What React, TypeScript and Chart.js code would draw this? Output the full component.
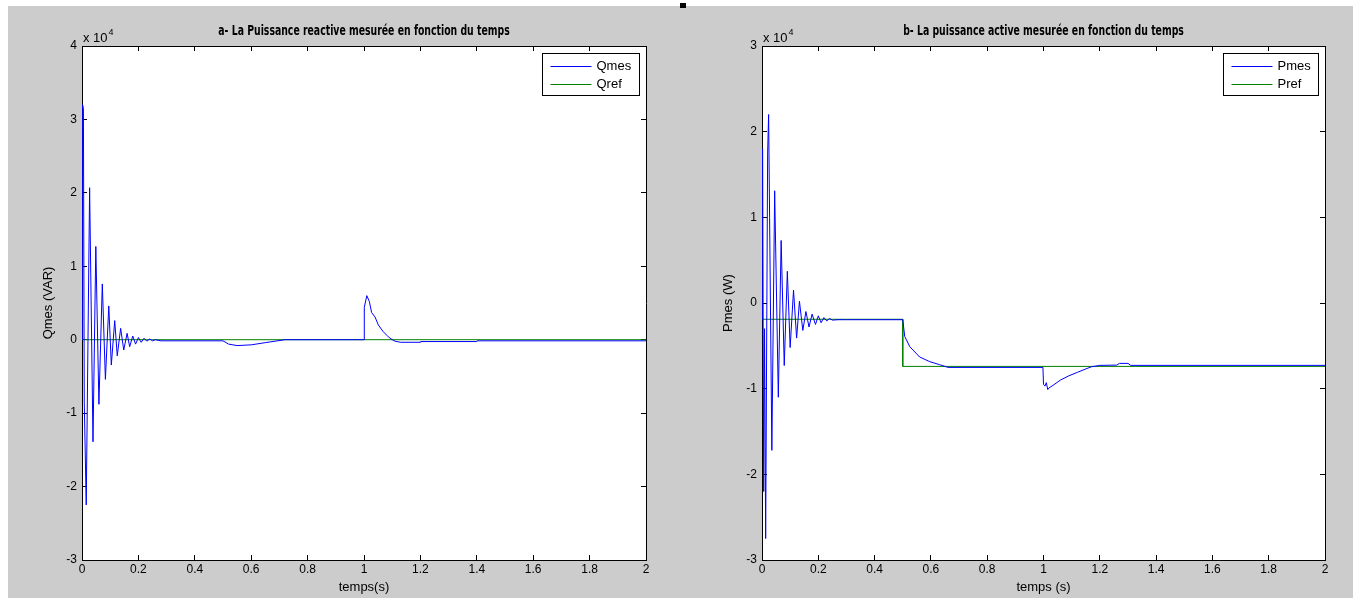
import React, { useEffect, useRef } from "react";
import { Chart, registerables } from "chart.js";

Chart.register(...registerables);

// ---------- DATA ----------
// Panel a: reactive power (VAR)
const qmesTime = [
  0, 0.001, 0.003, 0.005, 0.008, 0.015, 0.027, 0.039, 0.049, 0.06, 0.072, 0.083, 0.095, 0.104,
  0.116, 0.125, 0.137, 0.148, 0.16, 0.169, 0.18, 0.19, 0.2, 0.21, 0.22, 0.23, 0.24, 0.25, 0.26,
  0.28, 0.5, 0.52, 0.55, 0.6, 0.65, 0.72, 1.0, 1.001, 1.01, 1.019, 1.027, 1.039, 1.051, 1.068,
  1.086, 1.1, 1.11, 1.13, 1.2, 1.201, 1.4, 1.401, 2.0,
];
const qmesValues = [
  0, 17500, 32000, 31500, -8500, -22500, 20700, -13900, 12700, -8800, 7600, -5400, 4600, -3450,
  2600, -2200, 1550, -1400, 870, -950, 500, -600, 300, -350, 200, -200, 100, -150, 0,
  -150, -150, -600, -800, -700, -400, 0, 0, 4400, 6000, 5200, 3700, 3100, 2000, 1100,
  400, 0, -200, -350, -350, -250, -250, -150, -150,
];
const qrefTime = [0, 2];
const qrefValues = [0, 0];

// Panel b: active power (W)
const pmesTime = [
  0, 0.002, 0.006, 0.009, 0.013, 0.02, 0.0235, 0.027, 0.035, 0.045, 0.058, 0.068, 0.079, 0.09,
  0.1, 0.112, 0.123, 0.133, 0.145, 0.156, 0.167, 0.178, 0.19, 0.2, 0.21, 0.22, 0.23, 0.24, 0.25,
  0.27, 0.3, 0.5, 0.507, 0.525, 0.56, 0.596, 0.631, 0.661, 0.998, 1.0, 1.005, 1.01, 1.015, 1.02,
  1.03, 1.06, 1.09, 1.12, 1.15, 1.17, 1.2, 1.26, 1.27, 1.3, 1.31, 2.0,
];
const pmesValues = [
  -1900, 18000, -22000, -3000, -27500, 17500, 22000, 10000, -17200, 13100, -11000, 7300, -7300, 3700,
  -5200, 1500, -4100, 200, -3200, -1000, -2800, -1300, -2500, -1500, -2300, -1700, -2100, -1800, -2000,
  -1950, -1950, -1950, -3900, -5100, -6300, -6850, -7200, -7520, -7520, -9500, -9700, -9300, -10100, -9900,
  -9700, -9000, -8500, -8100, -7700, -7450, -7280, -7250, -7050, -7050, -7280, -7280,
];
const prefTime = [0, 0.5, 0.5, 2];
const prefValues = [-1900, -1900, -7400, -7400];

const xMin = 0;
const xMax = 2;
const xStep = 0.2;
const exponent = 4;

// ---------- STYLE ----------
const BLUE = "#0000ff";
const GREEN = "#008000";
const FONT = "'Liberation Sans', Arial, sans-serif";
const TITLE_FONT = "bold 14px 'DejaVu Sans Condensed', 'DejaVu Sans', sans-serif";
const W_LEFT = 680;
const W_RIGHT = 679;
const H = 605;

Chart.defaults.font.family = FONT;
Chart.defaults.color = "#000";

const toPoints = (t: number[], v: number[]) => t.map((x, i) => ({ x, y: v[i] }));

const whiteArea = {
  id: "whiteArea",
  beforeDraw(chart: any) {
    const { ctx, chartArea: a } = chart;
    ctx.save();
    ctx.fillStyle = "#fff";
    ctx.fillRect(a.left, a.top, a.right - a.left, a.bottom - a.top);
    ctx.restore();
  },
};

const condensedTitle = {
  id: "condensedTitle",
  afterDraw(chart: any, _args: any, opts: any) {
    const { ctx, chartArea: a } = chart;
    ctx.save();
    ctx.fillStyle = "#000";
    ctx.font = TITLE_FONT;
    ctx.textAlign = "center";
    ctx.textBaseline = "middle";
    ctx.translate((a.left + a.right) / 2, 31);
    ctx.scale(0.74, 1);
    ctx.fillText(opts.text, 0, 0);
    ctx.restore();
  },
};

const exponentLabel = {
  id: "exponentLabel",
  afterDraw(chart: any) {
    const { ctx, chartArea: a } = chart;
    ctx.save();
    ctx.fillStyle = "#000";
    ctx.textBaseline = "alphabetic";
    ctx.textAlign = "left";
    ctx.font = `13px ${FONT}`;
    const base = "x 10";
    ctx.fillText(base, a.left + 1, a.top - 4);
    const w = ctx.measureText(base).width;
    ctx.font = `9px ${FONT}`;
    ctx.fillText(String(exponent), a.left + 2 + w, a.top - 11);
    ctx.restore();
  },
};

const boxLegend = {
  id: "boxLegend",
  afterDraw(chart: any) {
    const { ctx, chartArea: a } = chart;
    const ds = chart.data.datasets;
    ctx.save();
    ctx.font = `13px ${FONT}`;
    const tw = Math.max(...ds.map((d: any) => ctx.measureText(d.label).width));
    const bw = Math.round(tw + 62);
    const bh = 42;
    const bx = Math.round(a.right - 7 - bw) + 0.5;
    const by = Math.round(a.top + 7) + 0.5;
    ctx.fillStyle = "#fff";
    ctx.fillRect(bx, by, bw, bh);
    ctx.strokeStyle = "#000";
    ctx.lineWidth = 1;
    ctx.strokeRect(bx, by, bw, bh);
    ds.forEach((d: any, i: number) => {
      const y = Math.round(by + 12 + i * 18) + 0.5;
      ctx.strokeStyle = d.borderColor;
      ctx.beginPath();
      ctx.moveTo(bx + 8, y);
      ctx.lineTo(bx + 49, y);
      ctx.stroke();
      ctx.fillStyle = "#000";
      ctx.textBaseline = "middle";
      ctx.textAlign = "left";
      ctx.fillText(d.label, bx + 54, y);
    });
    ctx.restore();
  },
};

type Spec = {
  title: string;
  yTitle: string;
  xTitle: string;
  yMin: number;
  yMax: number;
  series: { label: string; t: number[]; v: number[]; color: string }[];
};

function makeConfig(spec: Spec): any {
  const tickColor = "#000";
  const border = { display: true, color: "#000", width: 1 };
  const fmtX = (v: any) => String(Math.round(Number(v) * 10) / 10);
  const fmtY = (v: any) => String(Math.round(Number(v) / Math.pow(10, exponent)));
  const xTicks = (s: any) => {
    const ticks = [];
    for (let i = 0; i <= Math.round((xMax - xMin) / xStep); i++) ticks.push({ value: xMin + i * xStep });
    s.ticks = ticks;
  };
  return {
    type: "line",
    data: {
      datasets: spec.series.map((s) => ({
        label: s.label,
        data: toPoints(s.t, s.v),
        borderColor: s.color,
        backgroundColor: s.color,
        borderWidth: 1,
        pointRadius: 0,
        tension: 0,
        fill: false,
      })),
    },
    options: {
      responsive: false,
      animation: false,
      events: [],
      layout: { padding: { left: 0, right: 34, top: 46, bottom: 0 } },
      plugins: {
        legend: { display: false },
        tooltip: { enabled: false },
        title: { display: false },
        condensedTitle: { text: spec.title },
      },
      scales: {
        x: {
          type: "linear",
          position: "bottom",
          min: xMin,
          max: xMax,
          afterFit: (s: any) => { s.height = 45; },
          afterBuildTicks: xTicks,
          ticks: { callback: fmtX, font: { size: 12 }, padding: 7, maxRotation: 0, autoSkip: false, color: "#000" },
          grid: { drawOnChartArea: false, drawTicks: true, tickLength: -5, tickColor },
          border,
          title: { display: true, text: spec.xTitle, font: { size: 13 }, padding: { top: 0, bottom: 10 }, color: "#000" },
        },
        x2: {
          type: "linear",
          position: "top",
          min: xMin,
          max: xMax,
          afterFit: (s: any) => { s.height = 0; },
          afterBuildTicks: xTicks,
          ticks: { display: false },
          grid: { drawOnChartArea: false, drawTicks: true, tickLength: -5, tickColor },
          border,
        },
        y: {
          type: "linear",
          position: "left",
          min: spec.yMin,
          max: spec.yMax,
          afterFit: (s: any) => { s.width = 82; },
          ticks: { stepSize: 10000, callback: fmtY, font: { size: 12 }, padding: 10, color: "#000" },
          grid: { drawOnChartArea: false, drawTicks: true, tickLength: -5, tickColor },
          border,
          title: { display: true, text: spec.yTitle, font: { size: 13 }, padding: { top: 41, bottom: 0 }, color: "#000" },
        },
        y2: {
          type: "linear",
          position: "right",
          min: spec.yMin,
          max: spec.yMax,
          afterFit: (s: any) => { s.width = 0; },
          ticks: { display: false, stepSize: 10000 },
          grid: { drawOnChartArea: false, drawTicks: true, tickLength: -5, tickColor },
          border,
        },
      },
    },
    plugins: [whiteArea, condensedTitle, exponentLabel, boxLegend],
  };
}

const specA: Spec = {
  title: "a- La Puissance reactive mesurée en fonction du temps",
  yTitle: "Qmes (VAR)",
  xTitle: "temps(s)",
  yMin: -30000,
  yMax: 40000,
  series: [
    { label: "Qmes", t: qmesTime, v: qmesValues, color: BLUE },
    { label: "Qref", t: qrefTime, v: qrefValues, color: GREEN },
  ],
};

const specB: Spec = {
  title: "b- La puissance active mesurée en fonction du temps",
  yTitle: "Pmes (W)",
  xTitle: "temps (s)",
  yMin: -30000,
  yMax: 30000,
  series: [
    { label: "Pmes", t: pmesTime, v: pmesValues, color: BLUE },
    { label: "Pref", t: prefTime, v: prefValues, color: GREEN },
  ],
};

function Panel({ spec, left, width }: { spec: Spec; left: number; width: number }) {
  const ref = useRef<HTMLCanvasElement>(null);
  useEffect(() => {
    const chart = new Chart(ref.current as HTMLCanvasElement, makeConfig(spec));
    return () => chart.destroy();
  }, [spec]);
  return (
    <canvas
      ref={ref}
      width={width}
      height={H}
      style={{ position: "absolute", left, top: 0, width, height: H, display: "block" }}
    />
  );
}

export default function App() {
  return (
    <div style={{ position: "absolute", left: 0, top: 0, width: 1359, height: H, background: "#fff", overflow: "hidden" }}>
      <div style={{ position: "absolute", left: 8, top: 6, width: 1345, height: 592, background: "#cccccc" }} />
      <div style={{ position: "absolute", left: 680, top: 3, width: 6, height: 5, background: "#000" }} />
      <Panel spec={specA} left={0} width={W_LEFT} />
      <Panel spec={specB} left={W_LEFT} width={W_RIGHT} />
    </div>
  );
}
